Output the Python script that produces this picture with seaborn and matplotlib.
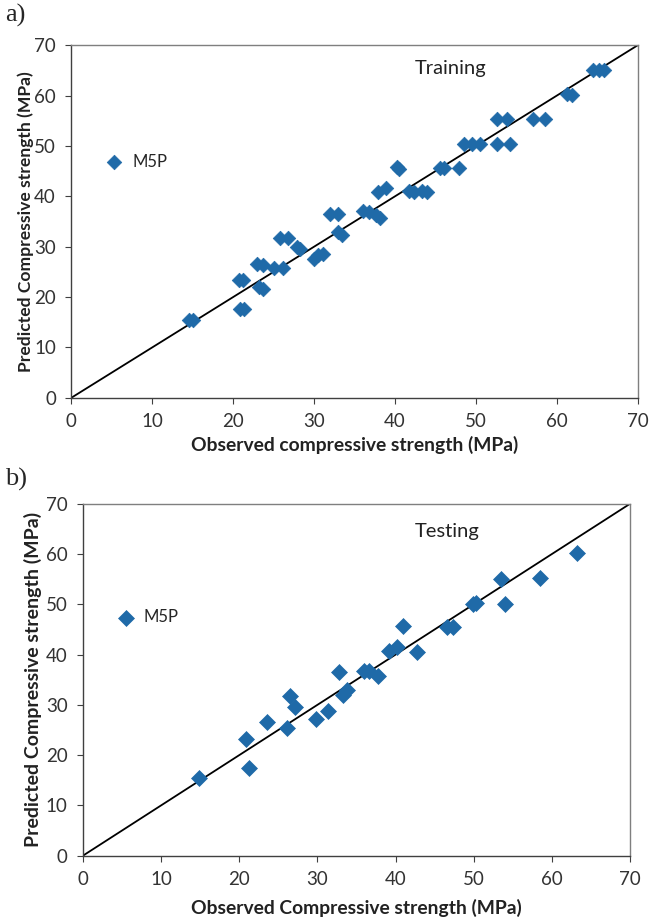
import matplotlib
matplotlib.use("Agg")
import matplotlib.pyplot as plt  # figure + axes
import seaborn as sns  # scatter drawing
import pandas as pd

# Training set: observed vs predicted compressive strength (MPa)
train_obs = [14.5, 15.0, 20.7, 21.2, 20.8, 21.3, 23.0, 23.7, 23.2, 23.7,
             25.0, 26.2, 25.8, 26.8, 27.9, 28.3, 30.0, 30.5, 31.1, 32.0,
             32.9, 33.0, 33.5, 36.1, 36.8, 37.7, 38.1, 37.9, 38.9, 40.2,
             40.5, 41.7, 42.4, 43.3, 43.9, 45.6, 46.1, 47.9, 48.5, 49.5,
             50.5, 52.6, 54.2, 52.6, 53.8, 57.0, 58.5, 61.3, 61.8, 64.5,
             65.2, 65.8]
train_pred = [15.5, 15.5, 23.3, 23.3, 17.6, 17.6, 26.5, 26.3, 22.0, 21.7,
              25.8, 25.8, 31.8, 31.7, 30.0, 29.6, 27.5, 28.3, 28.6, 36.5,
              36.5, 33.0, 32.3, 37.0, 36.8, 36.2, 35.6, 40.9, 41.7, 45.8,
              45.5, 41.0, 40.8, 41.0, 40.8, 45.6, 45.6, 45.7, 50.3, 50.3,
              50.4, 50.4, 50.4, 55.4, 55.4, 55.4, 55.4, 60.4, 60.1, 65.0,
              65.0, 65.0]

# Testing set
test_obs = [14.8, 20.9, 21.2, 23.6, 26.1, 26.5, 27.1, 29.8, 31.3, 32.7,
            33.3, 33.8, 35.9, 36.6, 37.8, 39.2, 40.2, 40.9, 42.7, 46.6,
            47.4, 49.9, 50.3, 53.5, 54.0, 58.5, 63.2]
test_pred = [15.5, 23.2, 17.5, 26.5, 25.4, 31.8, 29.6, 27.2, 28.8, 36.5,
             32.0, 32.9, 36.7, 36.7, 35.7, 40.8, 41.6, 45.6, 40.6, 45.5,
             45.5, 50.0, 50.3, 55.1, 50.1, 55.3, 60.3]

ticks = [0, 10, 20, 30, 40, 50, 60, 70]

sns.set_style("ticks")
plt.rcParams['font.family'] = ['Lato', 'DejaVu Sans']

blue = '#1f6aa8'

fig = plt.figure(figsize=(6.59, 9.21), dpi=100)

panels = [
    dict(rect=[0.108, 0.568, 0.860, 0.383], obs=train_obs, pred=train_pred,
         title='Training', title_xy=(0.67, 0.935),
         xlabel='Observed compressive strength (MPa)', ylab_size=12.6,
         ylab_pad=0, xlab_pad=4,
         tag='a)', tag_y=0.983, leg_y=0.67, size=55),
    dict(rect=[0.126, 0.071, 0.830, 0.382], obs=test_obs, pred=test_pred,
         title='Testing', title_xy=(0.665, 0.92),
         xlabel='Observed Compressive strength (MPa)', ylab_size=14,
         ylab_pad=3, xlab_pad=8,
         tag='b)', tag_y=0.479, leg_y=0.677, size=66),
]

for p in panels:
    ax = fig.add_axes(p['rect'])
    df = pd.DataFrame({'obs': p['obs'], 'pred': p['pred']})
    sns.scatterplot(data=df, x='obs', y='pred', ax=ax, marker='D', s=p['size'],
                    color=blue, edgecolor=blue, linewidth=0.5, label='M5P', zorder=3)
    # 1:1 line
    ax.plot([0, 70], [0, 70], color='black', linewidth=1.3, zorder=2)
    ax.set_xlim(0, 70)
    ax.set_ylim(0, 70)
    ax.set_xticks(ticks)
    ax.set_yticks(ticks)
    ax.tick_params(direction='out', length=4, width=0.8, labelsize=13.5, pad=7,
                   colors='#404040', labelcolor='#333333')
    for side in ['left', 'bottom']:
        ax.spines[side].set_color('#404040')
        ax.spines[side].set_linewidth(1.0)
    for side in ['top', 'right']:
        ax.spines[side].set_visible(True)
        ax.spines[side].set_color('#7f7f7f')
        ax.spines[side].set_linewidth(1.0)
    ax.set_xlabel(p['xlabel'], fontsize=13.9, fontweight='bold', color='#222222',
                  labelpad=p['xlab_pad'])
    ax.set_ylabel('Predicted Compressive strength (MPa)', fontsize=p['ylab_size'],
                  fontweight='bold', color='#222222', labelpad=p['ylab_pad'])
    ax.text(p['title_xy'][0], p['title_xy'][1], p['title'], transform=ax.transAxes,
            fontsize=14.5, color='#222222', ha='center', va='center')
    ax.legend(loc='center left', bbox_to_anchor=(0.02, p['leg_y']),
              frameon=False, fontsize=12, handletextpad=0.1, borderaxespad=0.5,
              markerscale=1.0)
    fig.text(0.008, p['tag_y'], p['tag'], family='Liberation Serif', fontsize=19,
             va='center', ha='left')

fig.savefig('out.png', dpi=100)
